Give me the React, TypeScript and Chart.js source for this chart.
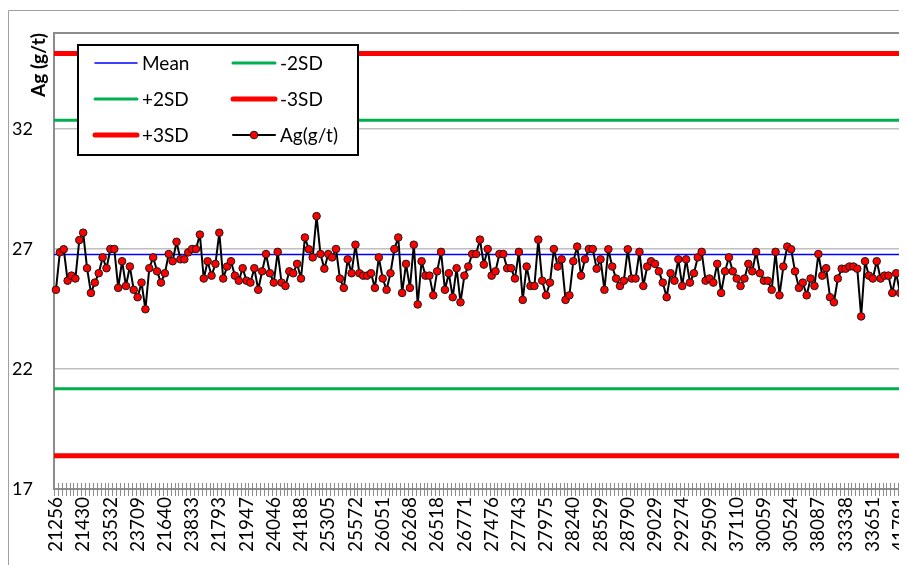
import React, { useEffect, useRef } from 'react';
import { Chart, registerables } from 'chart.js';

Chart.register(...registerables);

// Ag (g/t) assay values, one per sample
const agValues: number[] = [
  25.30, 26.86, 26.99, 25.68, 25.89, 25.77, 27.37, 27.68, 26.20, 25.17,
  25.60, 25.99, 26.65, 26.20, 27.00, 27.00, 25.38, 26.49, 25.46, 26.27,
  25.30, 24.99, 25.60, 24.49, 26.20, 26.65, 26.07, 25.60, 25.99, 26.79,
  26.49, 27.30, 26.57, 26.57, 26.86, 27.00, 27.00, 27.60, 25.77, 26.49,
  25.89, 26.38, 27.68, 25.77, 26.27, 26.49, 25.89, 25.68, 26.20, 25.68,
  25.60, 26.20, 25.30, 26.07, 26.79, 25.99, 25.60, 26.88, 25.60, 25.46,
  26.07, 25.99, 26.38, 25.77, 27.48, 26.99, 26.65, 28.37, 26.79, 26.18,
  26.79, 26.65, 27.00, 25.77, 25.38, 26.57, 25.99, 27.18, 25.99, 25.89,
  25.89, 25.99, 25.38, 26.65, 25.77, 25.30, 25.99, 27.00, 27.48, 25.17,
  26.38, 25.38, 27.18, 24.69, 26.49, 25.89, 25.89, 25.07, 26.07, 26.88,
  25.30, 25.99, 24.99, 26.20, 24.78, 25.89, 26.27, 26.79, 26.79, 27.39,
  26.35, 27.00, 25.89, 26.07, 26.79, 26.79, 26.20, 26.20, 25.77, 26.88,
  24.88, 26.27, 25.46, 25.46, 27.39, 25.68, 25.07, 25.60, 27.00, 26.27,
  26.57, 24.88, 25.07, 26.49, 27.10, 25.89, 26.57, 27.00, 27.00, 26.18,
  26.57, 25.30, 26.99, 26.27, 25.77, 25.46, 25.68, 26.99, 25.77, 25.77,
  26.88, 25.46, 26.27, 26.49, 26.38, 26.07, 25.60, 24.99, 25.99, 25.68,
  26.57, 25.46, 26.57, 25.60, 25.99, 26.65, 26.88, 25.68, 25.77, 25.60,
  26.38, 25.17, 26.07, 26.65, 26.07, 25.77, 25.46, 25.77, 26.38, 26.07,
  26.88, 25.99, 25.68, 25.68, 25.30, 26.88, 25.07, 26.27, 27.10, 26.99,
  26.07, 25.38, 25.60, 25.07, 25.77, 25.46, 26.79, 25.89, 26.20, 24.99,
  24.78, 25.77, 26.18, 26.18, 26.27, 26.27, 26.18, 24.19, 26.49, 25.89,
  25.77, 26.49, 25.77, 25.89, 25.89, 25.17, 25.99, 25.17,
];

// Sample-ID tick labels (one shown every `labelStep` samples)
const tickLabels: string[] = [
  '21256', '21430', '23532', '23709', '21640', '23833', '21793', '21947',
  '24046', '24188', '25305', '25572', '26051', '26268', '26518', '26771',
  '27476', '27743', '27975', '28240', '28529', '28790', '29029', '29274',
  '29509', '37110', '30059', '30524', '38087', '33338', '33651', '41791',
];
const labelStep = 7;

// Control limits
const meanValue = 26.77;
const plus2SDValue = 32.36;
const minus2SDValue = 21.18;
const plus3SDValue = 35.15;
const minus3SDValue = 18.39;

// Y axis
const yMin = 17;
const yMax = 36;
const yTickValues = [17, 22, 27, 32];

// Legend arrangement (rows x columns)
const legendLayout: string[][] = [
  ['Mean', '-2SD'],
  ['+2SD', '-3SD'],
  ['+3SD', 'Ag(g/t)'],
];

const FONT = 'Lato, "Open Sans", sans-serif';

const categories = agValues.map((_, i) =>
  i % labelStep === 0 ? tickLabels[i / labelStep] ?? '' : ''
);

function refLine(label: string, value: number, color: string, width: number) {
  return {
    label,
    data: [
      { x: -0.5, y: value },
      { x: agValues.length - 0.5, y: value },
    ],
    xAxisID: 'x2',
    borderColor: color,
    backgroundColor: color,
    borderWidth: width,
    pointRadius: 0,
    fill: false,
    tension: 0,
  };
}

const decorPlugin = {
  id: 'decor',
  beforeDraw(chart: any) {
    const { ctx } = chart;
    ctx.save();
    ctx.strokeStyle = '#a0a0a0';
    ctx.lineWidth = 1;
    ctx.beginPath();
    ctx.moveTo(0.5, chart.height);
    ctx.lineTo(0.5, 2.5);
    ctx.lineTo(chart.width, 2.5);
    ctx.stroke();
    ctx.restore();
  },
  beforeDatasetsDraw(chart: any) {
    const { ctx, chartArea: a, scales } = chart;
    const xs = scales.x;
    ctx.save();
    ctx.strokeStyle = '#8c8c8c';
    ctx.lineWidth = 1;
    ctx.beginPath();
    for (let i = 0; i <= agValues.length; i++) {
      const px = Math.round(xs.getPixelForValue(i - 0.5)) + 0.5;
      ctx.moveTo(px, a.bottom - 6);
      ctx.lineTo(px, a.bottom + 7);
    }
    ctx.stroke();
    ctx.lineWidth = 2;
    ctx.strokeRect(a.left, a.top, a.right - a.left, a.bottom - a.top);
    ctx.restore();
  },
  afterDraw(chart: any) {
    const { ctx, chartArea: a } = chart;
    const bx = a.left + 24;
    const by = a.top + 12;
    const bw = 280;
    const bh = 110;
    ctx.save();
    ctx.fillStyle = '#ffffff';
    ctx.fillRect(bx, by, bw, bh);
    ctx.strokeStyle = '#000000';
    ctx.lineWidth = 2;
    ctx.strokeRect(bx, by, bw, bh);
    ctx.font = `19px ${FONT}`;
    ctx.textBaseline = 'middle';
    ctx.textAlign = 'left';
    const colX = [17, 155];
    const rowY = [18, 54, 90];
    legendLayout.forEach((row, r) =>
      row.forEach((name, c) => {
        const ds = chart.data.datasets.find((d: any) => d.label === name);
        if (!ds) return;
        const x0 = bx + colX[c];
        const x1 = x0 + 42;
        const y = by + rowY[r];
        ctx.strokeStyle = ds.borderColor;
        ctx.lineWidth = ds.borderWidth;
        ctx.lineCap = 'round';
        ctx.beginPath();
        ctx.moveTo(x0, y);
        ctx.lineTo(x1, y);
        ctx.stroke();
        if (ds.pointRadius > 0) {
          ctx.beginPath();
          ctx.arc((x0 + x1) / 2, y, ds.pointRadius, 0, Math.PI * 2);
          ctx.fillStyle = ds.pointBackgroundColor;
          ctx.fill();
          ctx.lineWidth = ds.pointBorderWidth;
          ctx.strokeStyle = ds.pointBorderColor;
          ctx.stroke();
        }
        ctx.fillStyle = '#000000';
        ctx.fillText(name, x1 + 5, y + 1);
      })
    );
    ctx.restore();
  },
};

export default function App() {
  const canvasRef = useRef<HTMLCanvasElement>(null);

  useEffect(() => {
    document.documentElement.style.overflow = 'hidden';
    document.body.style.overflow = 'hidden';
    const canvas = canvasRef.current;
    if (!canvas) return;
    const chart = new Chart(canvas, {
      type: 'line',
      data: {
        labels: categories,
        datasets: [
          {
            label: 'Ag(g/t)',
            data: agValues,
            xAxisID: 'x',
            borderColor: '#000000',
            backgroundColor: '#ff0000',
            borderWidth: 2,
            borderJoinStyle: 'round',
            borderCapStyle: 'round',
            pointRadius: 3.8,
            pointBackgroundColor: '#ff0000',
            pointBorderColor: '#1a1a1a',
            pointBorderWidth: 1,
            tension: 0,
            fill: false,
          },
          refLine('Mean', meanValue, '#0000ff', 1.5),
          refLine('-2SD', minus2SDValue, '#00b050', 3),
          refLine('+2SD', plus2SDValue, '#00b050', 3),
          refLine('-3SD', minus3SDValue, '#ff0000', 5),
          refLine('+3SD', plus3SDValue, '#ff0000', 5),
        ] as any,
      },
      options: {
        responsive: false,
        animation: false,
        layout: { padding: { top: 25, right: 2, left: 0, bottom: 0 } },
        plugins: {
          legend: { display: false },
          tooltip: { enabled: false },
        },
        scales: {
          x: {
            type: 'category',
            offset: true,
            grid: { display: false, drawTicks: false },
            border: { display: false },
            ticks: {
              autoSkip: false,
              minRotation: 90,
              maxRotation: 90,
              padding: 8,
              color: '#000000',
              font: { family: FONT, size: 19 },
              callback: (_v: any, i: number) => categories[i],
            },
            afterFit: (s: any) => {
              s.height = 76;
              s.paddingLeft = 0;
              s.paddingRight = 0;
            },
          },
          x2: {
            type: 'linear',
            display: false,
            min: -0.5,
            max: agValues.length - 0.5,
          },
          y: {
            type: 'linear',
            min: yMin,
            max: yMax,
            afterBuildTicks: (s: any) => {
              s.ticks = [...yTickValues, yMax].map((v) => ({ value: v }));
            },
            ticks: {
              padding: 21,
              color: '#000000',
              font: { family: FONT, size: 18 },
              callback: (v: any) => (yTickValues.includes(v) ? String(v) : ''),
            },
            grid: { color: '#c0c0c0', lineWidth: 1.5, drawTicks: false },
            border: { display: false },
            title: {
              display: true,
              text: 'Ag (g/t)',
              align: 'end',
              color: '#000000',
              font: { family: FONT, size: 19, weight: 'bold' },
              padding: { top: 19, bottom: 0 },
            },
            afterFit: (s: any) => {
              s.width = 46;
              s.paddingTop = 0;
              s.paddingBottom = 0;
            },
          },
        },
      } as any,
      plugins: [decorPlugin],
    });
    return () => chart.destroy();
  }, []);

  return (
    <div style={{ position: 'relative', width: 899, height: 557 }}>
      <canvas ref={canvasRef} width={899} height={557} style={{ display: 'block' }} />
    </div>
  );
}
